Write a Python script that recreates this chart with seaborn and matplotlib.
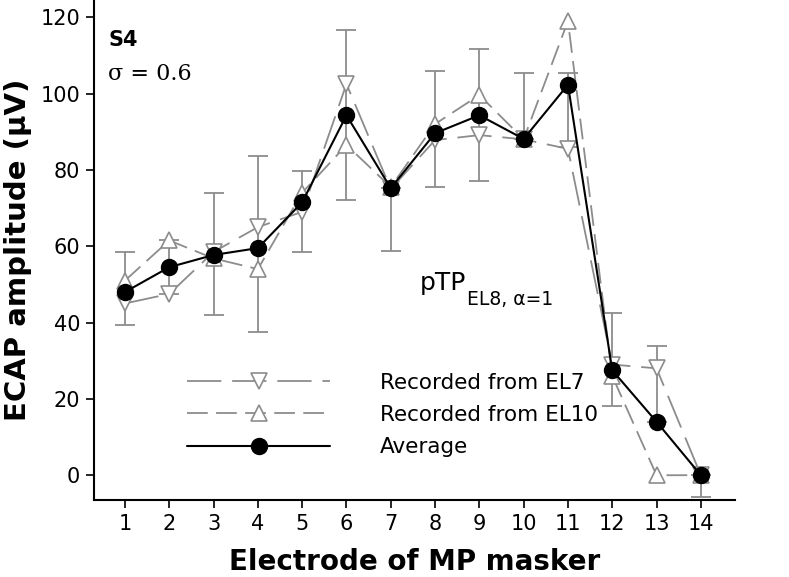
import matplotlib
matplotlib.use("Agg")
import matplotlib.pyplot as plt
import numpy as np
import seaborn as sns

# values
electrodes = np.arange(1, 15)
from_el7 = [45, 47.5, 58.5, 65, 69, 102.5, 75, 87.8, 89.1, 88, 85.5, 29, 28, 0]
from_el10 = [51, 61.5, 56.8, 54, 74, 86.5, 75.5, 92, 99.6, 88, 119, 26, 0, 0]
average = [48, 54.5, 57.7, 59.5, 71.5, 94.3, 75.2, 89.6, 94.3, 88.1, 102.3, 27.5, 14, 0]
err_low = [8.6, 7, 15.8, 22, 13, 22.1, 16.4, 14.2, 17.1, 0, 16.3, 9.3, 0, 5.8]
err_high = [10.4, 7, 16.3, 24, 8.2, 22.3, 0, 16.4, 17.4, 17.4, 3, 14.9, 19.9, 0]
y_ticks = [0, 20, 40, 60, 80, 100, 120]

sns.set_style("ticks")
plt.rcParams['font.family'] = ['DejaVu Sans']
plt.rcParams['text.color'] = 'black'
plt.rcParams['axes.labelcolor'] = 'black'
plt.rcParams['xtick.color'] = 'black'
plt.rcParams['ytick.color'] = 'black'

grey = '#8c8c8c'

fig = plt.figure(figsize=(7.89, 5.77), dpi=100)
ax = fig.add_axes([0.1191, 0.1334, 0.8124, 0.8666])

# error bars on the average
ax.errorbar(electrodes, average, yerr=[err_low, err_high], fmt='none',
            ecolor=grey, elinewidth=1.3, capsize=7.5, capthick=1.3, zorder=2)

sns.lineplot(x=electrodes, y=from_el7, ax=ax, color=grey, lw=1.3,
             linestyle=(0, (19, 6)), marker='v', markersize=11,
             markerfacecolor='white', markeredgecolor=grey, markeredgewidth=1.2,
             label='Recorded from EL7', zorder=3)
sns.lineplot(x=electrodes, y=from_el10, ax=ax, color=grey, lw=1.3,
             linestyle=(0, (11.5, 4.6)), marker='^', markersize=11,
             markerfacecolor='white', markeredgecolor=grey, markeredgewidth=1.2,
             label='Recorded from EL10', zorder=3)
sns.lineplot(x=electrodes, y=average, ax=ax, color='black', lw=1.5,
             marker='o', markersize=11.5, markerfacecolor='black',
             markeredgecolor='black', markeredgewidth=1,
             label='Average', zorder=4)

ax.set_xlim(0.3, 14.77)
ax.set_ylim(-6.5, 124.5)
ax.set_xticks(electrodes)
ax.set_yticks(y_ticks)
ax.tick_params(direction='out', length=6, width=1.2, labelsize=15, pad=4,
               color='black', labelcolor='black')
sns.despine(ax=ax)
for s in ['left', 'bottom']:
    ax.spines[s].set_linewidth(1.5)
    ax.spines[s].set_color('black')

ax.set_xlabel('Electrode of MP masker', fontsize=20, fontweight='bold', labelpad=10)
ax.set_ylabel('ECAP amplitude (μV)', fontsize=21, fontweight='bold', labelpad=6)

ax.legend(loc='upper left', bbox_to_anchor=(2.4, 26.9), bbox_transform=ax.transData,
          frameon=False, handlelength=6.65, handletextpad=2.3, labelspacing=0.57,
          borderpad=0, borderaxespad=0, fontsize=15.5, numpoints=1,
          labelcolor='black')

ax.text(0.62, 112.4, 'S4', fontsize=15, fontweight='bold', ha='left', va='baseline')
ax.text(0.62, 103.5, 'σ = 0.6', family=['DejaVu Serif'], fontsize=16,
        ha='left', va='baseline')
t = ax.text(7.65, 48.5, 'pTP', fontsize=18, ha='left', va='baseline')
ax.annotate('EL8, α=1', xy=(1, 0), xycoords=t, xytext=(1, -7),
            textcoords='offset points', fontsize=13.5, ha='left', va='baseline')

fig.savefig('out.png', dpi=100)
